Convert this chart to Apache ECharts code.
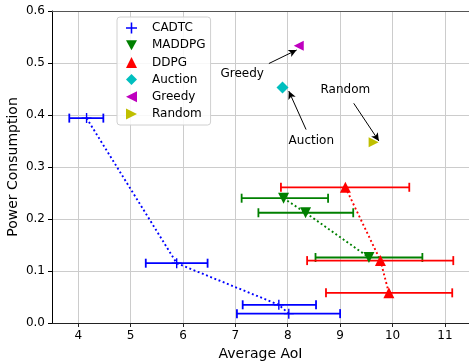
<!DOCTYPE html>
<html>
<head>
<meta charset="utf-8">
<script src="https://cdn.jsdelivr.net/npm/echarts@6/dist/echarts.min.js"></script>
<style>
  html, body { margin: 0; padding: 0; background: #fff; }
  #chartDiv { width: 469px; height: 364px; }
</style>
</head>
<body>
<div id="chartDiv"></div>
<script>
// values
var xTicks = [4, 5, 6, 7, 8, 9, 10, 11];

var cadtcX = [4.16, 5.88, 7.83, 8.02];
var cadtcY = [0.394, 0.115, 0.035, 0.018];
var cadtcLow = [3.83, 5.29, 7.14, 7.03];
var cadtcHigh = [4.48, 6.47, 8.54, 9.0];

var maddpgX = [7.92, 8.34, 9.55];
var maddpgY = [0.240, 0.212, 0.126];
var maddpgLow = [7.12, 7.44, 8.53];
var maddpgHigh = [8.77, 9.25, 10.57];

var ddpgX = [9.10, 9.77, 9.93];
var ddpgY = [0.261, 0.120, 0.058];
var ddpgLow = [7.87, 8.37, 8.73];
var ddpgHigh = [10.32, 11.16, 11.14];

var auctionPt = [7.90, 0.453];
var greedyPt = [8.21, 0.533];
var randomPt = [9.64, 0.3475];

var noteNames = ['Greedy', 'Auction', 'Random'];
var notePos = [[7.13, 0.480], [8.45, 0.351], [9.10, 0.448]];
var arrowFrom = [[7.64, 0.499], [8.35, 0.372], [9.26, 0.4225]];
var arrowTo = [[8.17, 0.525], [8.02, 0.446], [9.74, 0.350]];

var FONT = 'DejaVu Sans';
var plusIcon = 'path://M4.3,0h1.4v4.3h4.3v1.4h-4.3v4.3h-1.4v-4.3h-4.3v-1.4h4.3z';
var downIcon = 'path://M0,0L10,0L5,9Z';
var leftIcon = 'path://M10,0L10,10L0,5Z';
var rightIcon = 'path://M0,0L10,5L0,10Z';

var zip2 = function(a, b){
    return a.map(function(v, i){ return [v, b[i]]; });
};
var zip3 = function(a, b, c){
    return a.map(function(v, i){ return [v, b[i], c[i]]; });
};

// horizontal error bar with caps
var errorBar = function(color){
    return function(params, api){
        var y = api.value(2);
        var lo = api.coord([api.value(0), y]);
        var hi = api.coord([api.value(1), y]);
        var cap = 4.5;
        var style = { stroke: color, lineWidth: 1.8, fill: null };
        return {
            type: 'group',
            children: [
                { type: 'line', shape: { x1: lo[0], y1: lo[1], x2: hi[0], y2: hi[1] }, style: style },
                { type: 'line', shape: { x1: lo[0], y1: lo[1] - cap, x2: lo[0], y2: lo[1] + cap }, style: style },
                { type: 'line', shape: { x1: hi[0], y1: hi[1] - cap, x2: hi[0], y2: hi[1] + cap }, style: style }
            ]
        };
    };
};

var dotted = function(name, color, xs, ys){
    return {
        name: name, type: 'line', data: zip2(xs, ys), symbol: 'none', z: 2,
        lineStyle: { color: color, width: 1.9, type: [1.9, 2.6] }
    };
};
var bars = function(name, color, lo, hi, ys){
    return {
        name: name, type: 'custom', renderItem: errorBar(color),
        data: zip3(lo, hi, ys), encode: { x: [0, 1], y: 2 }, z: 3
    };
};
var points = function(name, color, symbol, size, data){
    return {
        name: name, type: 'scatter', data: data, symbol: symbol, symbolSize: size, z: 4,
        itemStyle: { color: color, opacity: 1 }
    };
};

var myChart = echarts.init(document.getElementById('chartDiv'));

var option = {
    animation: false,
    textStyle: { fontFamily: FONT },
    grid: { left: 52, right: 0, top: 11, bottom: 41, outerBoundsMode: 'none', containLabel: false },
    legend: {
        orient: 'vertical', left: 117, top: 17,
        padding: [5, 5, 5, 9],
        itemWidth: 11, itemHeight: 11, itemGap: 5.2,
        backgroundColor: 'rgba(255,255,255,0.85)',
        borderColor: '#d0d0d0', borderWidth: 1, borderRadius: 3,
        textStyle: { fontFamily: FONT, fontSize: 12, color: '#000', padding: [0, 0, 0, 10] },
        data: [
            { name: 'CADTC', icon: plusIcon },
            { name: 'MADDPG', icon: downIcon },
            { name: 'DDPG', icon: 'triangle' },
            { name: 'Auction', icon: 'diamond' },
            { name: 'Greedy', icon: leftIcon },
            { name: 'Random', icon: rightIcon }
        ]
    },
    xAxis: [{
        type: 'value', min: 3.5, max: 11.46,
        name: 'Average AoI', nameLocation: 'middle', nameGap: 24, nameMoveOverlap: false,
        nameTextStyle: { fontFamily: FONT, fontSize: 14, color: '#000' },
        axisLine: { lineStyle: { color: '#222', width: 1 } },
        axisTick: { show: true, length: 4, customValues: xTicks, lineStyle: { color: '#222' } },
        axisLabel: { customValues: xTicks, margin: 7, fontFamily: FONT, fontSize: 12, color: '#000' },
        splitLine: { show: true, lineStyle: { color: '#cccccc', width: 1 } }
    }, {
        type: 'value', position: 'top', min: 3.5, max: 11.46,
        axisLine: { show: true, lineStyle: { color: '#555', width: 1 } },
        axisTick: { show: false }, axisLabel: { show: false }, splitLine: { show: false }
    }],
    yAxis: {
        type: 'value', min: 0, max: 0.6, interval: 0.1,
        name: 'Power Consumption', nameLocation: 'middle', nameGap: 32, nameMoveOverlap: false,
        nameTextStyle: { fontFamily: FONT, fontSize: 14, color: '#000' },
        axisLine: { show: true, lineStyle: { color: '#000', width: 1 } },
        axisTick: { show: true, length: 4, lineStyle: { color: '#000' } },
        axisLabel: {
            margin: 7, fontFamily: FONT, fontSize: 12, color: '#000',
            formatter: function(val){ return val.toFixed(1); }
        },
        splitLine: { show: true, lineStyle: { color: '#cccccc', width: 1 } }
    },
    series: [
        dotted('CADTC-line', '#0000ff', cadtcX, cadtcY),
        dotted('MADDPG-line', '#008000', maddpgX, maddpgY),
        dotted('DDPG-line', '#ff0000', ddpgX, ddpgY),
        bars('CADTC-err', '#0000ff', cadtcLow, cadtcHigh, cadtcY),
        bars('MADDPG-err', '#008000', maddpgLow, maddpgHigh, maddpgY),
        bars('DDPG-err', '#ff0000', ddpgLow, ddpgHigh, ddpgY),
        points('CADTC', '#0000ff', plusIcon, 10, zip2(cadtcX, cadtcY)),
        points('MADDPG', '#008000', downIcon, 11, zip2(maddpgX, maddpgY)),
        points('DDPG', '#ff0000', 'triangle', 11, zip2(ddpgX, ddpgY)),
        points('Auction', '#00bfbf', 'diamond', 12, [auctionPt]),
        points('Greedy', '#bf00bf', leftIcon, 10, [greedyPt]),
        points('Random', '#bfbf00', rightIcon, 10, [randomPt]),
        {
            name: 'notes', type: 'scatter', symbolSize: 1, z: 5, silent: true,
            itemStyle: { color: 'rgba(0,0,0,0)', opacity: 1 },
            label: {
                show: true, position: 'inside', fontFamily: FONT, fontSize: 12, color: '#000',
                opacity: 1, textBorderWidth: 0,
                formatter: function(p){ return p.name; }
            },
            data: noteNames.map(function(n, i){ return { name: n, value: notePos[i] }; }),
            markLine: {
                silent: true, symbol: ['none', 'arrow'], symbolSize: [6, 8],
                label: { show: false },
                lineStyle: { color: '#000', width: 1, type: 'solid' },
                data: arrowFrom.map(function(a, i){
                    return [{ coord: a }, { coord: arrowTo[i] }];
                })
            }
        }
    ]
};

myChart.setOption(option);
</script>
</body>
</html>
